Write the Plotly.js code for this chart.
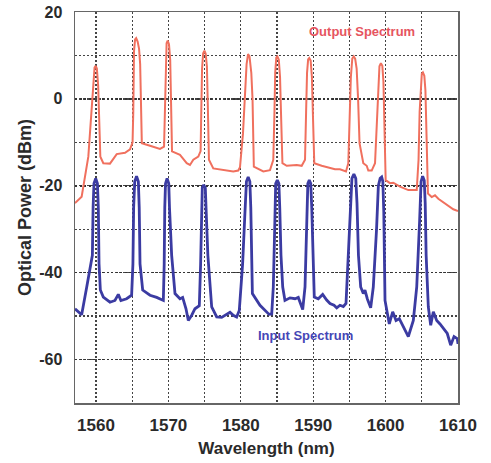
<!DOCTYPE html>
<html><head><meta charset="utf-8">
<script src="https://cdn.plot.ly/plotly-3.0.1.min.js"></script>
<style>html,body{margin:0;padding:0;background:#fff;}#chart{width:491px;height:463px;}</style>
</head><body><div id="chart"></div>
<script>
// [wavelength nm, power dBm]
const outputSpectrum = [
[1557.10,-24],[1558.02,-22.5],[1558.94,-13.3],[1559.40,-2],[1559.60,4],[1559.80,7.2],[1559.96,7.6],[1560.12,7.0],[1560.30,3],[1560.45,-5],[1560.60,-13.3],
[1561.01,-14.8],[1561.93,-14.9],[1562.86,-12.7],[1564.01,-12.4],[1564.70,-11.6],[1565.05,-10],[1565.15,-3],[1565.25,11],[1565.40,13.7],[1565.55,14.0],[1565.75,13.2],[1565.95,11.5],[1566.10,8],[1566.22,-2],[1566.33,-10.2],
[1567.46,-10.8],[1568.84,-11.5],[1569.40,-11],[1569.50,-3],[1569.60,9],[1569.75,12.8],[1569.90,13.4],[1570.08,12.6],[1570.25,9],[1570.38,-2],[1570.50,-12.1],
[1571.60,-12.9],[1572.53,-14.8],[1572.98,-15.2],[1573.44,-14],[1574.13,-13.3],[1574.45,-12],[1574.55,-2],[1574.65,7],[1574.80,10.5],[1574.98,11.1],[1575.15,10.4],[1575.32,7.5],[1575.45,-2],[1575.60,-14],
[1576.20,-16],[1578.05,-16.4],[1578.96,-16.7],[1579.65,-16.5],[1579.89,-15.7],[1580.30,-8],[1580.58,0],[1580.80,8],[1581.00,10.3],[1581.20,9.8],[1581.45,6],[1581.62,0],[1581.80,-15.6],
[1583.11,-16.7],[1584.03,-16.4],[1584.49,-14],[1584.65,-3],[1584.75,6],[1584.90,9.5],[1585.05,9.8],[1585.25,9.0],[1585.42,5],[1585.55,-3],[1585.75,-14.8],
[1586.34,-15.4],[1587.72,-15.2],[1588.41,-15.4],[1588.87,-14],[1589.02,-3],[1589.15,6],[1589.30,9.1],[1589.45,9.4],[1589.65,8.8],[1589.82,5],[1589.95,-3],[1590.15,-14.8],
[1591.17,-15.4],[1592.32,-15.8],[1593.01,-16.2],[1593.70,-16.2],[1594.53,-16.7],[1594.85,-14.8],[1595.05,-3],[1595.20,5],[1595.40,9.3],[1595.60,9.8],[1595.80,9.2],[1596.00,7],[1596.20,0],[1596.40,-10.2],
[1596.92,-14.8],[1597.39,-15.4],[1597.61,-16.5],[1598.08,-16.5],[1598.54,-14.8],[1598.85,-3],[1599.00,4],[1599.15,7.5],[1599.35,8.2],[1599.55,7.6],[1599.70,4],[1599.82,-6],[1600.01,-18.7],
[1600.61,-19.4],[1601.06,-19.3],[1601.99,-20.2],[1603.14,-21],[1604.30,-21],[1604.55,-14],[1604.70,-3],[1604.85,3],[1605.00,5.8],[1605.15,6.1],[1605.35,5.3],[1605.50,2],[1605.65,-8],[1605.85,-21.8],
[1606.37,-22.6],[1606.82,-22.2],[1607.28,-23],[1607.97,-23.8],[1608.66,-24.6],[1609.35,-25.4],[1610.00,-25.8]
];
const inputSpectrum = [
[1557.10,-48.3],[1558.02,-49.7],[1558.72,-43.3],[1559.17,-39.4],[1559.50,-36],[1559.60,-25],[1559.72,-19.5],[1559.96,-18.3],[1560.20,-19.5],[1560.32,-25],[1560.42,-38],[1560.60,-44],
[1561.01,-45.6],[1561.93,-46.8],[1562.62,-46.4],[1563.08,-45],[1563.44,-46.4],[1564.23,-46],[1564.92,-45.2],[1565.10,-38],[1565.20,-25],[1565.35,-19],[1565.60,-17.8],[1565.85,-19],[1565.97,-25],[1566.08,-38],[1566.45,-44],
[1567.46,-45.2],[1568.38,-45.7],[1569.30,-46.4],[1569.42,-38],[1569.50,-25],[1569.60,-19.5],[1569.82,-18.3],[1570.05,-19.5],[1570.15,-25],[1570.45,-36],[1570.91,-44.8],
[1571.60,-46],[1571.97,-45.7],[1572.43,-48.3],[1572.75,-51],[1573.22,-49.8],[1573.67,-48.3],[1574.27,-47.6],[1574.45,-38],[1574.55,-26],[1574.68,-20.5],[1574.88,-19.8],[1575.10,-20.5],[1575.22,-26],[1575.45,-36],
[1575.98,-47.9],[1576.67,-50.2],[1577.36,-50.3],[1578.05,-49.5],[1578.51,-49.1],[1578.96,-49.8],[1579.43,-50.2],[1579.79,-48.7],[1580.25,-38],[1580.55,-27],[1580.78,-19],[1581.02,-18],[1581.25,-19],[1581.38,-25],[1581.48,-38],[1581.60,-44.8],
[1582.65,-47.5],[1583.34,-48.6],[1583.90,-49.6],[1584.27,-49.5],[1584.49,-43.3],[1584.68,-30],[1584.82,-19.5],[1585.04,-18.7],[1585.26,-19.5],[1585.38,-25],[1585.55,-36],[1585.79,-43.3],
[1586.10,-46.4],[1586.80,-45.8],[1587.49,-46],[1587.94,-45.7],[1588.55,-48.5],[1588.87,-43.3],[1589.12,-28],[1589.26,-19.5],[1589.46,-18.7],[1589.66,-19.5],[1589.80,-25],[1589.98,-38],[1590.15,-45.6],
[1590.70,-46],[1591.31,-45],[1591.86,-46.3],[1592.32,-47.1],[1592.87,-47.5],[1593.25,-48.1],[1593.70,-47.5],[1594.16,-47.8],[1594.53,-47.1],[1594.85,-35.6],[1595.10,-25],[1595.35,-18.3],[1595.62,-17.3],[1595.88,-18.3],[1596.05,-24],[1596.25,-36],
[1596.56,-43.3],[1596.92,-44.8],[1597.15,-44],[1597.47,-46],[1597.94,-48.1],[1598.30,-43.3],[1598.75,-30],[1599.00,-20],[1599.25,-18.3],[1599.46,-18],[1599.62,-19],[1599.75,-26],[1599.92,-46.4],
[1600.51,-51.8],[1600.98,-49],[1601.44,-51],[1601.89,-50.6],[1602.44,-52.5],[1603.14,-54.7],[1603.83,-51],[1604.30,-43.3],[1604.70,-28],[1604.90,-19],[1605.12,-17.8],[1605.34,-18.8],[1605.47,-24],[1605.60,-36],
[1605.90,-47.9],[1606.23,-52.1],[1606.59,-49],[1607.06,-51],[1607.51,-51.8],[1607.97,-52.9],[1608.52,-54],[1608.99,-56.7],[1609.45,-54.7],[1609.90,-55.2],[1610.00,-56.4]
];

const xTickValues = [1560,1570,1580,1590,1600,1610];
const yTickValues = [-60,-40,-20,0,20];
const xTitle = "Wavelength (nm)";
const yTitle = "Optical Power (dBm)";
const outputLabel = "Output Spectrum";
const inputLabel = "Input Spectrum";

const FONT = "Liberation Sans, Arial, sans-serif";
const GRIDCOLOR = "#444";
const GRIDDASH = "1.5px,2.5px";
const traces = [
  {x: outputSpectrum.map(p => p[0]), y: outputSpectrum.map(p => p[1]), type: "scatter", mode: "lines",
   name: outputLabel, line: {color: "#f0705e", width: 2}},
  {x: inputSpectrum.map(p => p[0]), y: inputSpectrum.map(p => p[1]), type: "scatter", mode: "lines",
   name: inputLabel, line: {color: "#3b3ba2", width: 2.8}}
];
const layout = {
  width: 491, height: 463,
  margin: {l: 75, r: 33, t: 12, b: 60},
  paper_bgcolor: "#fff", plot_bgcolor: "#fff",
  showlegend: false,
  font: {family: FONT, color: "#2a2a2a"},
  xaxis: {
    range: [1557.1, 1610], tickmode: "array", tickvals: xTickValues, ticktext: xTickValues.map(String),
    showgrid: true, gridcolor: GRIDCOLOR, griddash: GRIDDASH, gridwidth: 1.3,
    minor: {tickmode: "linear", tick0: 1560, dtick: 5, showgrid: true, gridcolor: GRIDCOLOR, griddash: GRIDDASH, gridwidth: 1.3},
    showline: true, mirror: true, linecolor: "#666", linewidth: 1.5,
    ticks: "", ticklabelstandoff: 6, zeroline: false,
    tickfont: {family: FONT, size: 17, color: "#2a2a2a", weight: "bold"},
    title: {text: xTitle, font: {family: FONT, size: 17, color: "#2a2a2a", weight: "bold"}, standoff: 8}
  },
  yaxis: {
    range: [-70, 20], tickmode: "array", tickvals: yTickValues, ticktext: yTickValues.map(String),
    showgrid: true, gridcolor: "#333", griddash: "2px,2.5px", gridwidth: 1.6,
    minor: {tickmode: "linear", tick0: 0, dtick: 10, showgrid: true, gridcolor: GRIDCOLOR, griddash: GRIDDASH, gridwidth: 1.3},
    showline: true, mirror: true, linecolor: "#666", linewidth: 1.5,
    ticks: "", ticklabelstandoff: 8, zeroline: false,
    tickfont: {family: FONT, size: 16, color: "#2a2a2a", weight: "bold"},
    title: {text: yTitle, font: {family: FONT, size: 18, color: "#2a2a2a", weight: "bold"}, standoff: 3}
  },
  annotations: [
    {x: 1596.8, y: 15.5, xref: "x", yref: "y", text: outputLabel, showarrow: false,
     font: {family: FONT, size: 13, color: "#e65560", weight: "bold"}},
    {x: 1589.0, y: -54.4, xref: "x", yref: "y", text: inputLabel, showarrow: false,
     font: {family: FONT, size: 13, color: "#4646b6", weight: "bold"}}
  ]
};
Plotly.newPlot("chart", traces, layout, {staticPlot: true, displayModeBar: false});
</script></body></html>
